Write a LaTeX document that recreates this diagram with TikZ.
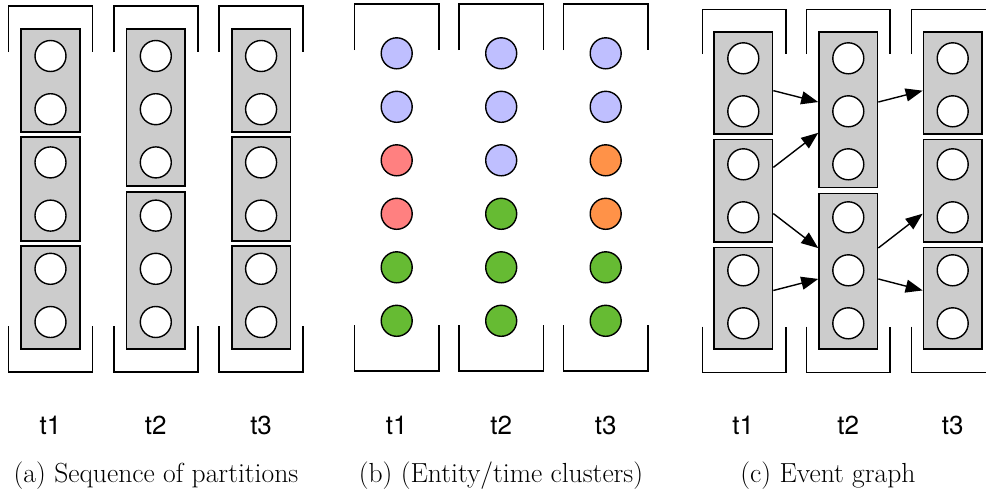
\documentclass[tikz,border=0pt]{standalone}
\usepackage{fontspec}
\newfontfamily\hv{TeX Gyre Heros}
\usetikzlibrary{arrows.meta}
\definecolor{boxgray}{HTML}{CCCCCC}
\definecolor{cblue}{HTML}{BFBFFF}
\definecolor{cred}{HTML}{FF8080}
\definecolor{corange}{HTML}{FF9248}
\definecolor{cgreen}{HTML}{66BB33}
\begin{document}
\begin{tikzpicture}[x=1pt,y=-1pt,
 bracket/.style={line width=1.6pt},
 pbox/.style={draw, fill=boxgray, line width=1.6pt, inner sep=0pt, minimum width=58.5pt},
 ent/.style={circle, draw, fill=white, line width=1.4pt, inner sep=0pt, minimum size=31pt},
 tl/.style={font=\hv\fontsize{26}{30}\selectfont},
 captext/.style={font=\fontsize{27.6}{32}\selectfont},
 arr/.style={-{Triangle[length=17pt,width=13pt]}, line width=1.4pt}]
\useasboundingbox (0,0) rectangle (986,488);
\clip (0,0) rectangle (986,488);

% ---------- panel (a) ----------
\foreach \x in {50.5,155.8,261.1}{
  \draw[bracket] (\x-42,52) |- (\x+42,6) -- (\x+42,52);
  \draw[bracket] (\x-42,326) |- (\x+42,372) -- (\x+42,326);
}
\node[pbox, minimum height=103pt] (A11) at (50.5,80.5) {};
\node[pbox, minimum height=104pt] (A12) at (50.5,189) {};
\node[pbox, minimum height=103pt] (A13) at (50.5,297.5) {};
\node[pbox, minimum height=157pt] (A21) at (155.8,107.5) {};
\node[pbox, minimum height=157pt] (A22) at (155.8,270.5) {};
\node[pbox, minimum height=103pt] (A31) at (261.1,80.5) {};
\node[pbox, minimum height=104pt] (A32) at (261.1,189) {};
\node[pbox, minimum height=103pt] (A33) at (261.1,297.5) {};
\foreach \c/\x in {1/50.5,2/155.8,3/261.1}{
  \foreach \i/\y in {1/56,2/109.2,3/162.4,4/215.6,5/268.8,6/322}{
    \node[ent] (a\c c\i) at (\x,\y) {};
  }
}
\node[tl] (at1) at (50.5,425) {t1};
\node[tl] (at2) at (155.8,425) {t2};
\node[tl] (at3) at (261.1,425) {t3};
\node[captext] (capa) at (156,475.5) {(a) Sequence of partitions};

% ---------- panel (b) ----------
\foreach \x in {396.7,501.2,605.7}{
  \draw[bracket] (\x-42.3,50) |- (\x+42.3,4) -- (\x+42.3,50);
  \draw[bracket] (\x-42.3,325) |- (\x+42.3,371) -- (\x+42.3,325);
}
\foreach \c/\x/\cols in {1/396.7/{cblue,cblue,cred,cred,cgreen,cgreen},
                         2/501.2/{cblue,cblue,cblue,cgreen,cgreen,cgreen},
                         3/605.7/{cblue,cblue,corange,corange,cgreen,cgreen}}{
  \foreach \col [count=\i] in \cols {
    \node[ent, fill=\col] (b\c c\i) at (\x,{53.3+53.5*(\i-1)}) {};
  }
}
\node[tl] (bt1) at (396.7,425) {t1};
\node[tl] (bt2) at (501.2,425) {t2};
\node[tl] (bt3) at (605.7,425) {t3};
\node[captext] (capb) at (501,475.5) {(b) (Entity/time clusters)};

% ---------- panel (c) ----------
\foreach \x in {744,848.3,953.3}{
  \draw[bracket] (\x-41.7,54) |- (\x+41.7,9.3) -- (\x+41.7,54);
  \draw[bracket] (\x-41.7,326.7) |- (\x+41.7,372.3) -- (\x+41.7,326.7);
}
\node[pbox, minimum height=102pt] (C11) at (743.3,83) {};
\node[pbox, minimum height=102.4pt] (C12) at (743.3,190.5) {};
\node[pbox, minimum height=101.7pt] (C13) at (743.3,298.2) {};
\node[pbox, minimum height=155.3pt] (C21) at (848.3,109.7) {};
\node[pbox, minimum height=155.7pt] (C22) at (848.3,271.2) {};
\node[pbox, minimum height=102pt] (C31) at (952.7,83) {};
\node[pbox, minimum height=102.4pt] (C32) at (952.7,190.5) {};
\node[pbox, minimum height=101.7pt] (C33) at (952.7,298.2) {};
\foreach \c/\x in {1/743.3,2/848.3,3/952.7}{
  \foreach \i/\y in {1/58.3,2/111.3,3/164.3,4/217.3,5/270.3,6/323.3}{
    \node[ent] (c\c c\i) at (\x,\y) {};
  }
}
\draw[arr] (C11) -- (C21);
\draw[arr] (C12) -- (C21);
\draw[arr] (C12) -- (C22);
\draw[arr] (C13) -- (C22);
\draw[arr] (C21) -- (C31);
\draw[arr] (C22) -- (C32);
\draw[arr] (C22) -- (C33);
\node[tl] (ct1) at (743.3,425) {t1};
\node[tl] (ct2) at (848.3,425) {t2};
\node[tl] (ct3) at (952.7,425) {t3};
\node[captext] (capc) at (828,475.5) {(c) Event graph};
\end{tikzpicture}
\end{document}
